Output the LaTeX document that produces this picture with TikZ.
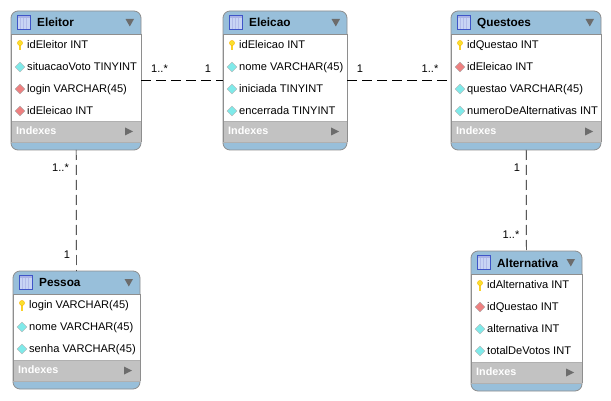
\documentclass[tikz,border=0pt]{standalone}
\usepackage{fontspec}
\setmainfont{Liberation Sans}
\definecolor{headblue}{HTML}{98BFDA}
\definecolor{indexgray}{HTML}{C2C2C2}
\definecolor{edgegray}{HTML}{8E8E8E}
\definecolor{fkred}{HTML}{EE8080}
\definecolor{colcyan}{HTML}{7FEAEA}
\definecolor{keyyellow}{HTML}{F9DF2E}
\definecolor{iconblue}{HTML}{3F55C8}
\definecolor{iconpale}{HTML}{C8D4F4}
\tikzset{
    erdbox/.style={draw=edgegray, line width=0.8pt, fill=headblue, rounded corners=7pt, inner sep=0pt, outer sep=0pt},
    rowtext/.style={right, inner sep=0pt, text height=8pt, text depth=2.5pt, font=\fontsize{11.1}{13}\selectfont},
    headtext/.style={right, inner sep=0pt, text height=8.5pt, text depth=2.5pt, font=\fontsize{11.8}{14}\selectfont\bfseries},
    indextext/.style={right, inner sep=0pt, text height=8pt, text depth=2.5pt, text=white, font=\fontsize{10.8}{13}\selectfont\bfseries},
    multtext/.style={inner sep=0pt, text height=8pt, text depth=0pt, font=\fontsize{11.1}{13}\selectfont},
    relline/.style={draw=black, line width=0.7pt, dash pattern=on 10pt off 5pt},
    pkicon/.pic={
        \fill[keyyellow!85!orange] (-1.2,0) rectangle (1.2,5.5);
        \fill[keyyellow, draw=orange!60!yellow, line width=0.3pt] (0,-2) circle (2.6);
    },
    colicon/.pic={
        \fill[colcyan, draw=gray!60, line width=0.4pt] (-4.8,0) -- (0,-4.8) -- (4.8,0) -- (0,4.8) -- cycle;
    },
    fkicon/.pic={
        \fill[fkred, draw=gray!70, line width=0.4pt] (-4.8,0) -- (0,-4.8) -- (4.8,0) -- (0,4.8) -- cycle;
    },
    tableicon/.pic={
        \draw[iconblue, fill=iconpale, line width=0.8pt] (0,0) rectangle (13,14);
        \fill[iconblue!45!white] (0.5,0.5) rectangle (12.5,2.5);
        \foreach \barx in {3.7,6.5,9.3} \draw[white!60!iconblue, line width=0.7pt] (\barx,2.5) -- (\barx,13.5);
    },
}
% #1 name, #2 left, #3 top, #4 right, #5 bottom, #6 title, #7 rows
\newcommand{\erdtable}[7]{
    \pgfmathsetmacro{\boxw}{#4-#2}
    \pgfmathsetmacro{\boxh}{#5-#3}
    \pgfmathsetmacro{\boxcx}{(#4+#2)/2}
    \pgfmathsetmacro{\boxcy}{(#5+#3)/2}
    \pgfmathsetmacro{\idxtop}{#5-29}
    \pgfmathsetmacro{\idxbot}{#5-8}
    \node[erdbox, minimum width=\boxw pt, minimum height=\boxh pt] (#1) at (\boxcx,\boxcy) {};
    \fill[white] (#2,#3+23) rectangle (#4,\idxtop);
    \fill[indexgray] (#2,\idxtop) rectangle (#4,\idxbot);
    \draw[edgegray, line width=0.6pt] (#2,#3+23) -- (#4,#3+23);
    \draw[edgegray!70, line width=0.6pt] (#2,\idxtop) -- (#4,\idxtop);
    \draw[edgegray!70, line width=0.6pt] (#2,\idxbot) -- (#4,\idxbot);
    \draw[edgegray, line width=0.8pt] (#2,#3+23) -- (#2,\idxbot) (#4,#3+23) -- (#4,\idxbot);
    \pic at (#2+6,#3+4.5) {tableicon};
    \node[headtext] (#1-title) at (#2+26,#3+13) {#6};
    \fill[gray!85!black] (#4-15.5,#3+8) -- (#4-7,#3+8) -- (#4-11.2,#3+15.5) -- cycle;
    \foreach \rowicon/\rowlabel [count=\rowno] in {#7} {
        \pgfmathsetmacro{\rowy}{#3+12+22*\rowno}
        \pic at (#2+9,\rowy) {\rowicon};
        \node[rowtext] (#1-row\rowno) at (#2+16,\rowy+0.9) {\rowlabel};
    }
    \node[indextext] (#1-indexes) at (#2+5,\idxtop+11) {Indexes};
    \fill[gray!85!black] (#4-16,\idxtop+6.5) -- (#4-8,\idxtop+10.5) -- (#4-16,\idxtop+14.5) -- cycle;
}
\begin{document}
\begin{tikzpicture}[x=1pt, y=-1pt]
    \useasboundingbox (0,0) rectangle (611,401);
    \fill[white] (0,0) rectangle (611,401);

    \erdtable{eleitor}{11}{11}{141}{150}{Eleitor}{pkicon/idEleitor INT, colicon/situacaoVoto TINYINT, fkicon/login VARCHAR(45), fkicon/idEleicao INT}
    \erdtable{eleicao}{223}{11}{347}{150}{Eleicao}{pkicon/idEleicao INT, colicon/nome VARCHAR(45), colicon/iniciada TINYINT, colicon/encerrada TINYINT}
    \erdtable{questoes}{451}{11}{601}{150}{Questoes}{pkicon/idQuestao INT, fkicon/idEleicao INT, colicon/questao VARCHAR(45), colicon/numeroDeAlternativas INT}
    \erdtable{pessoa}{13}{271}{140}{389}{Pessoa}{pkicon/login VARCHAR(45), colicon/nome VARCHAR(45), colicon/senha VARCHAR(45)}
    \erdtable{alternativa}{471}{251}{582}{391}{Alternativa}{pkicon/idAlternativa INT, fkicon/idQuestao INT, colicon/alternativa INT, colicon/totalDeVotos INT}

    \draw[relline] (eleitor) -- (eleicao);
    \draw[relline] (eleicao) -- (questoes);
    \draw[relline] (eleitor) -- (pessoa);
    \draw[relline] (questoes) -- (alternativa);

    \node[multtext] (m1) at (159.5,68.7) {1..*};
    \node[multtext] (m2) at (208,68.7) {1};
    \node[multtext] (m3) at (360,68.7) {1};
    \node[multtext] (m4) at (430,68.7) {1..*};
    \node[multtext] (m5) at (60.5,167.7) {1..*};
    \node[multtext] (m6) at (67,254.7) {1};
    \node[multtext] (m7) at (517,167.7) {1};
    \node[multtext] (m8) at (511,234.7) {1..*};
\end{tikzpicture}
\end{document}
